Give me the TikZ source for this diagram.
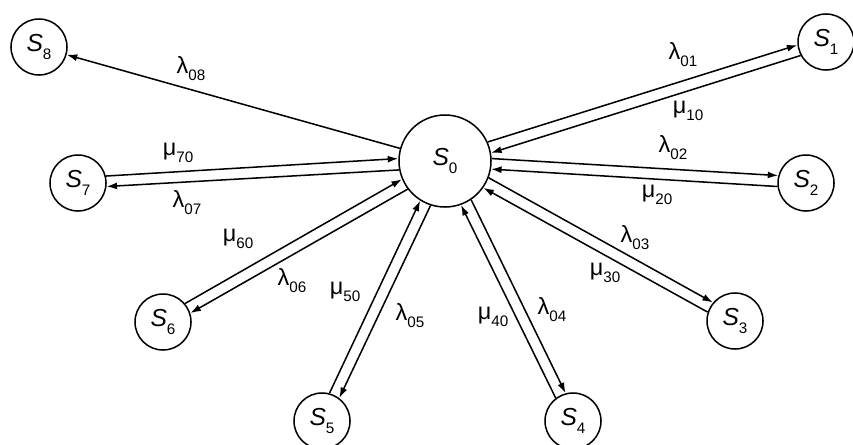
\documentclass[tikz,border=0pt]{standalone}
\usepackage{fontspec}
\setmainfont{Liberation Sans}
\usetikzlibrary{calc, arrows.meta}
\def\cx{445}
\def\cy{161}
\tikzset{state/.style={circle, draw, line width=1.3pt, minimum size=1.68cm, inner sep=0pt, font=\fontsize{21}{21}\selectfont}}
\tikzset{hub/.style={state, minimum size=2.76cm}}
\tikzset{flow/.style={line width=1.3pt, -{Latex[length=9pt,width=6pt]}}}
\tikzset{rate/.style={inner sep=0pt, font=\fontsize{20}{20}\selectfont}}
\newcommand{\lowsub}[2]{#1\raisebox{-0.3em}{\fontsize{13}{13}\selectfont #2}}

\begin{document}
\begin{tikzpicture}[x=0.03cm, y=-0.03cm]
  \useasboundingbox (0,0) rectangle (853,444);
  % Centre state
  \node[hub] (s0) at (\cx,\cy) {\lowsub{\textit{S}}{0}};
  % Outer states, each with a pair of transitions
  \foreach \k/\px/\py in {1/826/42, 2/806/183, 3/735/321, 4/573/421,
                          5/322/421, 6/163/322, 7/78/183} {
    \node[state] (s\k) at (\px,\py) {\lowsub{\textit{S}}{\k}};
    \pgfmathsetmacro\ang{atan2(\cy-\py,\px-\cx)}
    % every line sits on the left of its own direction
    \pgfmathsetmacro\la{\ang+7}
    \pgfmathsetmacro\lb{\ang+169}
    \pgfmathsetmacro\ma{\ang+191}
    \pgfmathsetmacro\mb{\ang-7}
    \draw[flow] (s0.\la) -- (s\k.\lb);
    \draw[flow] (s\k.\ma) -- (s0.\mb);
  }
  % Lone transition
  \node[state] (s8) at (39,47) {\lowsub{\textit{S}}{8}};
  \draw[flow] (s0) -- (s8);
  % Rates
  \foreach \nm/\g/\ij/\px/\py in {
    l01/λ/01/683/55, m10/μ/10/688/111,
    l02/λ/02/673/148, m20/μ/20/657/195,
    l03/λ/03/635/238, m30/μ/30/605/273,
    l04/λ/04/552/310, m40/μ/40/493/317,
    l05/λ/05/410/316, m50/μ/50/345/292,
    l06/λ/06/292/281, m60/μ/60/238/239,
    l07/λ/07/187/203, m70/μ/70/178/153,
    l08/λ/08/191/69%
  } {
    \node[rate] (\nm) at (\px,\py) {\lowsub{\g}{\ij}};
  }
\end{tikzpicture}
\end{document}
